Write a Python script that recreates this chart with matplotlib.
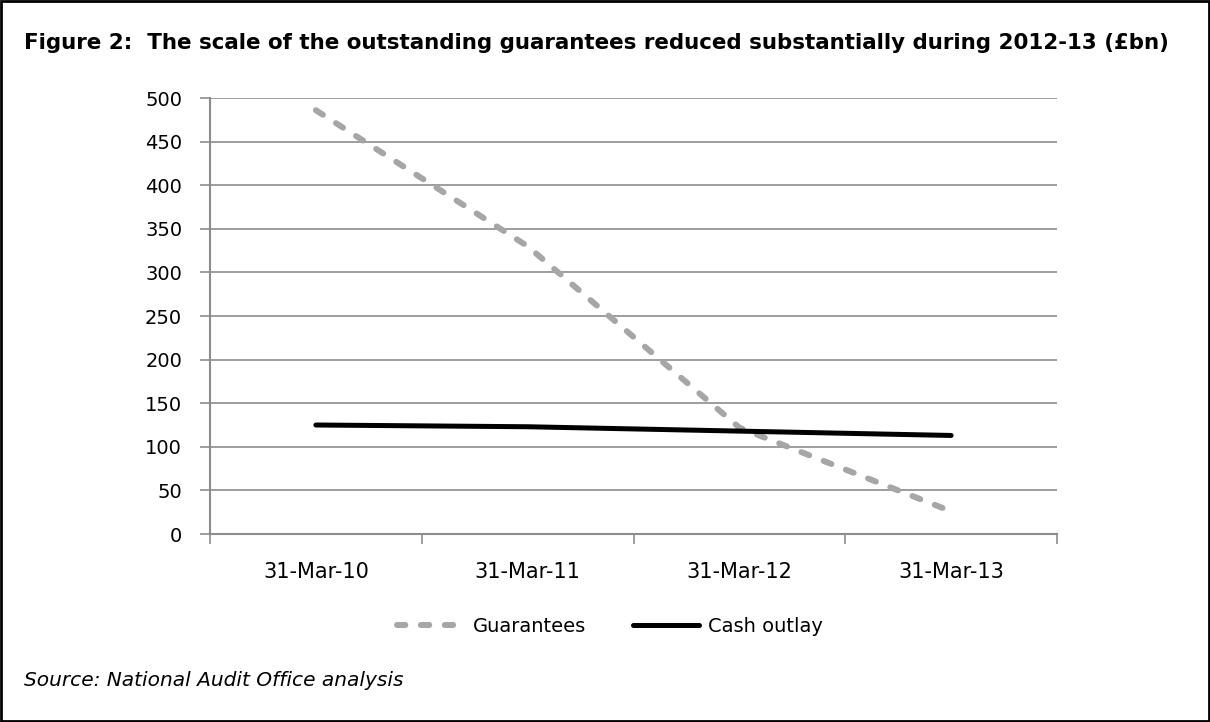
import matplotlib
matplotlib.use("Agg")
import matplotlib.pyplot as plt
from matplotlib.patches import Rectangle
from matplotlib.lines import Line2D

# Data (GBP bn)
dates = ['31-Mar-10', '31-Mar-11', '31-Mar-12', '31-Mar-13']
guarantees = [486, 330, 122, 26]
cash_outlay = [125, 123, 118, 113]
yticks = [0, 50, 100, 150, 200, 250, 300, 350, 400, 450, 500]

FONT = 'DejaVu Sans'
GRID = '#8c8c8c'
GREY = '#a6a6a6'
FS = 14

plt.rcParams['font.family'] = FONT

fig = plt.figure(figsize=(12.10, 7.22), dpi=100)
ax = fig.add_axes([210 / 1210, 1 - 534 / 722, (1057 - 210) / 1210, (534 - 98) / 722])

x = list(range(len(dates)))
ax.plot(x, guarantees, color=GREY, lw=4.3, dashes=(1.4, 2.6),
        dash_capstyle='round', solid_capstyle='round', zorder=3)
ax.plot(x, cash_outlay, color='black', lw=3.6, solid_capstyle='round', zorder=4)

ax.set_xlim(-0.5, len(dates) - 0.5)
ax.set_ylim(0, 500)
ax.set_yticks(yticks)
ax.set_yticklabels([str(v) for v in yticks])
ax.set_xticks(x)
ax.set_xticklabels(dates)
ax.set_xticks([i - 0.5 for i in range(len(dates) + 1)], minor=True)
ax.tick_params(axis='x', which='major', length=0, pad=20, labelsize=15)
ax.tick_params(axis='x', which='minor', length=7, width=1.2, color=GRID, direction='out')
ax.tick_params(axis='y', length=7, width=1.2, color=GRID, direction='out', pad=13, labelsize=FS)
ax.grid(axis='y', color=GRID, lw=1.2)
ax.set_axisbelow(True)
for side in ['top', 'right']:
    ax.spines[side].set_visible(False)
for side in ['left', 'bottom']:
    ax.spines[side].set_color(GRID)
    ax.spines[side].set_linewidth(1.5)

# Title and source
fig.text(24 / 1210, 1 - 43 / 722, 'Figure 2:  The scale of the outstanding guarantees reduced substantially during 2012-13 (\u00a3bn)',
         fontsize=15.4, fontweight='bold', va='center', ha='left')
fig.text(24 / 1210, 1 - 681 / 722, 'Source: National Audit Office analysis',
         fontsize=14.5, style='italic', va='center', ha='left')

# Legend
handles = [Line2D([], [], color=GREY, lw=4.3, dashes=(1.4, 2.6), dash_capstyle='round'),
           Line2D([], [], color='black', lw=3.6, solid_capstyle='round')]
fig.legend(handles, ['Guarantees', 'Cash outlay'], loc='center',
           bbox_to_anchor=(610 / 1210, 1 - 626 / 722), ncol=2, frameon=False,
           fontsize=FS, handlelength=3.4, columnspacing=2.4, handletextpad=0.5)

# Outer border
fig.patches.append(Rectangle((0.001, 0.001), 0.998, 0.997, transform=fig.transFigure,
                             fill=False, edgecolor='black', lw=2))

fig.savefig('out.png', dpi=100)
